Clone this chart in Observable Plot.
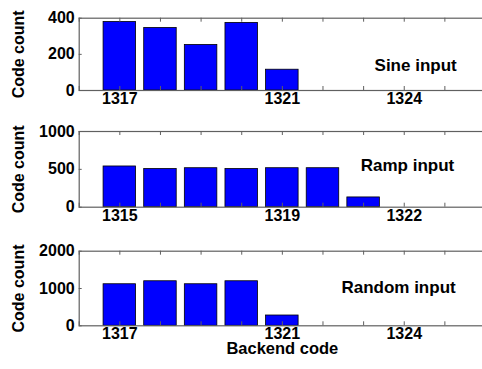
<!DOCTYPE html>
<html>
<head>
<meta charset="utf-8">
<script src="https://cdn.jsdelivr.net/npm/d3@7"></script>
<script src="https://cdn.jsdelivr.net/npm/@observablehq/plot@0.6"></script>
<style>
  html, body { margin: 0; padding: 0; background: #fff; }
  #wrap { position: relative; width: 482px; height: 369px; overflow: hidden; }
  #wrap > svg { position: absolute; left: 0; max-width: none !important; }
</style>
</head>
<body>
<div id="wrap"></div>
<script>
// ---- data ----
const sineCodes = [1317, 1318, 1319, 1320, 1321];
const sineCounts = [379, 346, 252, 374, 115];
const rampCodes = [1315, 1316, 1317, 1318, 1319, 1320, 1321];
const rampCounts = [538, 504, 515, 504, 515, 515, 129];
const randomCodes = [1317, 1318, 1319, 1320, 1321];
const randomCounts = [1114, 1194, 1114, 1194, 276];

const sineTickLabels = [1317, 1321, 1324];
const rampTickLabels = [1315, 1319, 1322];
const randomTickLabels = [1317, 1321, 1324];

const sineYTicks = [0, 200, 400];
const rampYTicks = [0, 500, 1000];
const randomYTicks = [0, 1000, 2000];

const yLabel = "Code count";
const xLabel = "Backend code";

const FONT = "'Liberation Sans', Arial, Helvetica, sans-serif";
const AXIS = "#606060";
const W = 490, ML = 78.7, MR = 5;

function panel(o) {
  const data = o.codes.map((c, i) => ({code: c, count: o.counts[i]}));
  const intTicks = d3.range(o.xDomain[0], o.xDomain[1] + 1);
  const fh = o.height - o.mt - o.mb;   // frame height
  const fw = W - ML - MR;              // frame width
  const marks = [
    Plot.rectY(data, {x1: d => d.code - 0.4, x2: d => d.code + 0.4, y1: 0, y2: "count",
      fill: "#0000ff", stroke: "#000", strokeWidth: 0.8}),
    // inward tick marks on all four sides
    Plot.tickX(intTicks, {x: d => d, insetTop: fh - 4, stroke: AXIS}),
    Plot.tickX(intTicks, {x: d => d, insetBottom: fh - 4, stroke: AXIS}),
    Plot.tickY(o.yTicks, {y: d => d, insetRight: fw - 3, stroke: AXIS}),
    Plot.tickY(o.yTicks, {y: d => d, insetLeft: fw - 3, stroke: AXIS}),
    Plot.frame({stroke: AXIS, strokeWidth: 1.2}),
    Plot.axisX(o.xLabels, {anchor: "bottom", tickSize: 0, tickPadding: 2, tickFormat: d => String(d),
      fontSize: 16, fontWeight: "bold", fill: "#000", label: null}),
    Plot.axisY(o.yTicks, {anchor: "left", tickSize: 0, tickPadding: 4.5, tickFormat: d => String(d),
      fontSize: 16, fontWeight: "bold", fill: "#000", label: null}),
    Plot.text([yLabel], {frameAnchor: "left", rotate: -90, dx: -60.5, textAnchor: "middle", lineAnchor: "middle",
      text: d => d, fontSize: 16, fontWeight: "bold", fill: "#000"}),
    Plot.text([o.title], {x: o.tx, y: o.ty, text: d => d, fontSize: 17, fontWeight: "bold", fill: "#000"})
  ];
  if (o.xTitle) {
    marks.push(Plot.text([o.xTitle], {frameAnchor: "bottom", dy: 28, text: d => d,
      fontSize: 16.5, fontWeight: "bold", fill: "#000"}));
  }
  const svg = Plot.plot({
    width: W, height: o.height,
    marginLeft: ML, marginRight: MR, marginTop: o.mt, marginBottom: o.mb,
    style: {fontFamily: FONT, fontSize: "16px", fontWeight: "bold", color: "#000", background: "transparent", overflow: "visible", maxWidth: "none"},
    x: {domain: o.xDomain},
    y: {domain: [0, o.yMax]},
    marks
  });
  svg.style.top = o.top + "px";
  svg.style.maxWidth = "none";
  return svg;
}

const wrap = document.getElementById("wrap");
wrap.appendChild(panel({codes: sineCodes, counts: sineCounts, xDomain: [1316, 1326], xLabels: sineTickLabels,
  yMax: 400, yTicks: sineYTicks, title: "Sine input", tx: 1324.28, ty: 138,
  top: 0, height: 118, mt: 17.7, mb: 28}));
wrap.appendChild(panel({codes: rampCodes, counts: rampCounts, xDomain: [1314, 1324], xLabels: rampTickLabels,
  yMax: 1000, yTicks: rampYTicks, title: "Ramp input", tx: 1322.08, ty: 551,
  top: 118, height: 118, mt: 13, mb: 29.3}));
wrap.appendChild(panel({codes: randomCodes, counts: randomCounts, xDomain: [1316, 1326], xLabels: randomTickLabels,
  yMax: 2000, yTicks: randomYTicks, title: "Random input", tx: 1323.86, ty: 1027,
  top: 236, height: 133, mt: 14.7, mb: 43.7, xTitle: xLabel}));
</script>
</body>
</html>
